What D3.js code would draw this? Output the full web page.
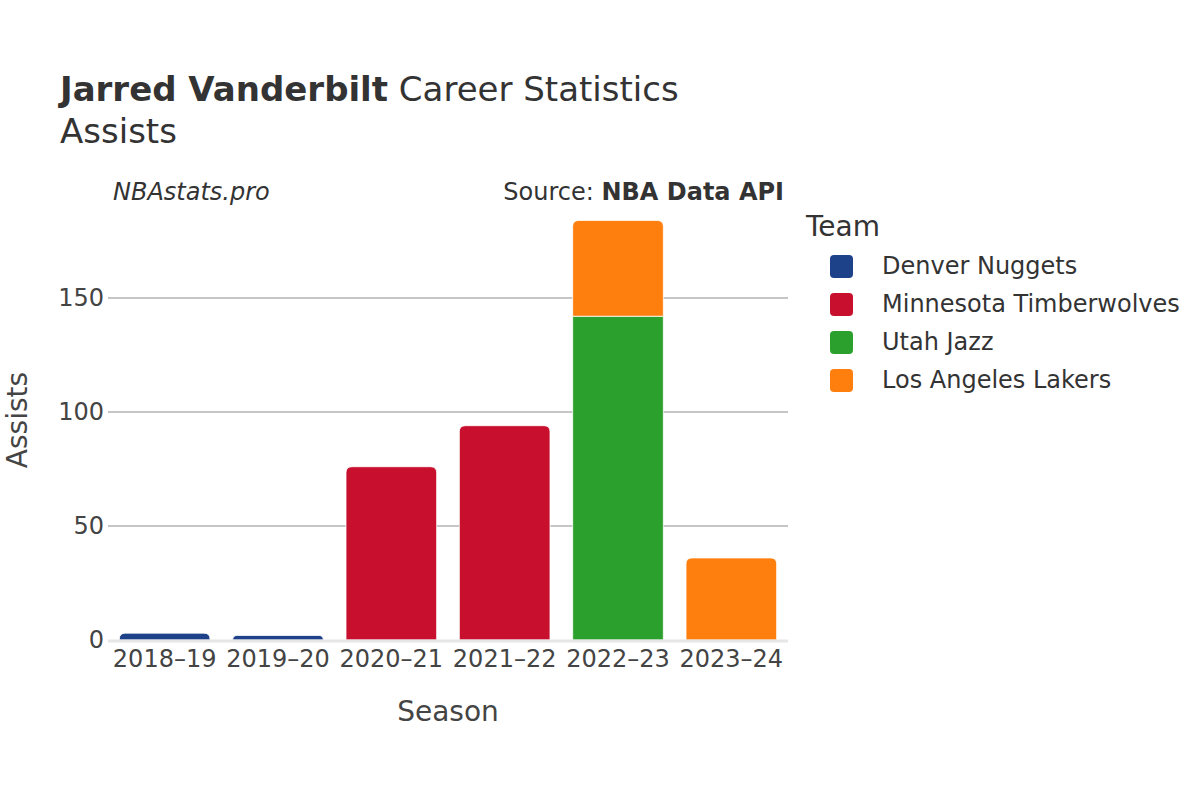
<!DOCTYPE html>
<html><head><meta charset="utf-8">
<script src="https://cdn.jsdelivr.net/npm/d3@7"></script>
<style>body{margin:0;background:#fff}svg{font-family:"DejaVu Sans",sans-serif}</style>
</head><body>
<svg id="c" width="1200" height="800"></svg>
<script>
const seasons = ["2018–19","2019–20","2020–21","2021–22","2022–23","2023–24"];
const teams = ["Denver Nuggets","Minnesota Timberwolves","Utah Jazz","Los Angeles Lakers"];
const colors = ["#1d428a","#c8102e","#2ca02c","#ff7f0e"];
const denver    = [3, 2, 0, 0, 0, 0];
const minnesota = [0, 0, 76, 94, 0, 0];
const utah      = [0, 0, 0, 0, 142, 0];
const lakers    = [0, 0, 0, 0, 42, 36];
const yTicks = [0, 50, 100, 150];

const series = [denver, minnesota, utah, lakers];
const svg = d3.select("#c");
const L = 108, R = 788, T = 202, B = 640;
const x = d3.scaleBand().domain(seasons).range([L, R]).paddingInner(0.2).paddingOuter(0.1);
const y = d3.scaleLinear().domain([0, 192.1]).range([B, T]);

// grid
svg.append("g").selectAll("line").data(yTicks.filter(d=>d>0)).join("line")
  .attr("x1", L).attr("x2", R).attr("y1", d=>y(d)).attr("y2", d=>y(d))
  .attr("stroke", "#8c8c8c").attr("stroke-width", 1);

const stackData = seasons.map((s,i)=>{
  const o = {season:s}; teams.forEach((t,j)=>o[t]=series[j][i]); return o;
});
const stacked = d3.stack().keys(teams)(stackData);
const topIdx = seasons.map((s,i)=>{ let k=-1; teams.forEach((t,j)=>{ if(series[j][i]>0) k=j; }); return k; });

function barPath(x0, w, y0, y1, r){
  r = Math.min(r, (y0-y1), w/2);
  return `M${x0},${y0}V${y1+r}Q${x0},${y1} ${x0+r},${y1}H${x0+w-r}Q${x0+w},${y1} ${x0+w},${y1+r}V${y0}Z`;
}
stacked.forEach((layer, j)=>{
  svg.append("g").selectAll("path").data(layer.map((d,i)=>({d,i}))).join("path")
    .filter(o=>o.d[1]-o.d[0]>0)
    .attr("d", o=>{
      const x0 = x(seasons[o.i]), w = x.bandwidth();
      const y0 = y(o.d[0]), y1 = y(o.d[1]);
      return topIdx[o.i]===j ? barPath(x0,w,y0,y1,6) : `M${x0},${y0}V${y1}H${x0+w}V${y0}Z`;
    })
    .attr("fill", colors[j])
    .attr("stroke", "#fff").attr("stroke-width", 0.8);
});

svg.append("line").attr("x1", L).attr("x2", R).attr("y1", y(0)+1).attr("y2", y(0)+1)
  .attr("stroke", "#e6e6e6").attr("stroke-width", 3);

svg.append("g").selectAll("text").data(yTicks).join("text")
  .attr("x", L-4).attr("y", d=>y(d)).attr("dy", "0.35em")
  .attr("text-anchor", "end").attr("font-size", 24).attr("fill", "#444").text(d=>d);
svg.append("g").selectAll("text").data(seasons).join("text")
  .attr("x", d=>x(d)+x.bandwidth()/2).attr("y", 667)
  .attr("text-anchor", "middle").attr("font-size", 24).attr("fill", "#444").text(d=>d);

svg.append("text").attr("x", (L+R)/2).attr("y", 721).attr("text-anchor","middle")
  .attr("font-size", 28).attr("fill", "#444").text("Season");
svg.append("text").attr("transform", "translate(27,420) rotate(-90)").attr("text-anchor","middle")
  .attr("font-size", 28).attr("fill", "#444").text("Assists");

const t = svg.append("text").attr("x", 60).attr("y", 101).attr("font-size", 34).attr("fill", "#333");
t.append("tspan").attr("font-weight", "bold").text("Jarred Vanderbilt");
t.append("tspan").text(" Career Statistics");
svg.append("text").attr("x", 60).attr("y", 143).attr("font-size", 34).attr("fill", "#333").text("Assists");

svg.append("text").attr("x", 113).attr("y", 200).attr("font-size", 24).attr("font-style","italic")
  .attr("fill", "#333").text("NBAstats.pro");
const s = svg.append("text").attr("x", 784).attr("y", 200).attr("text-anchor","end")
  .attr("font-size", 24).attr("fill", "#333");
s.append("tspan").text("Source: ");
s.append("tspan").attr("font-weight","bold").text("NBA Data API");

svg.append("text").attr("x", 806).attr("y", 236).attr("font-size", 28).attr("fill", "#333").text("Team");
const lg = svg.append("g").selectAll("g").data(teams).join("g")
  .attr("transform", (d,i)=>`translate(830,${266+i*38})`);
lg.append("rect").attr("x", 0).attr("y", -11).attr("width", 23).attr("height", 23).attr("rx", 4)
  .attr("fill", (d,i)=>colors[i]);
lg.append("text").attr("x", 52).attr("y", 0).attr("dy", "0.35em").attr("font-size", 24)
  .attr("fill", "#333").text(d=>d);
</script>
</body></html>
